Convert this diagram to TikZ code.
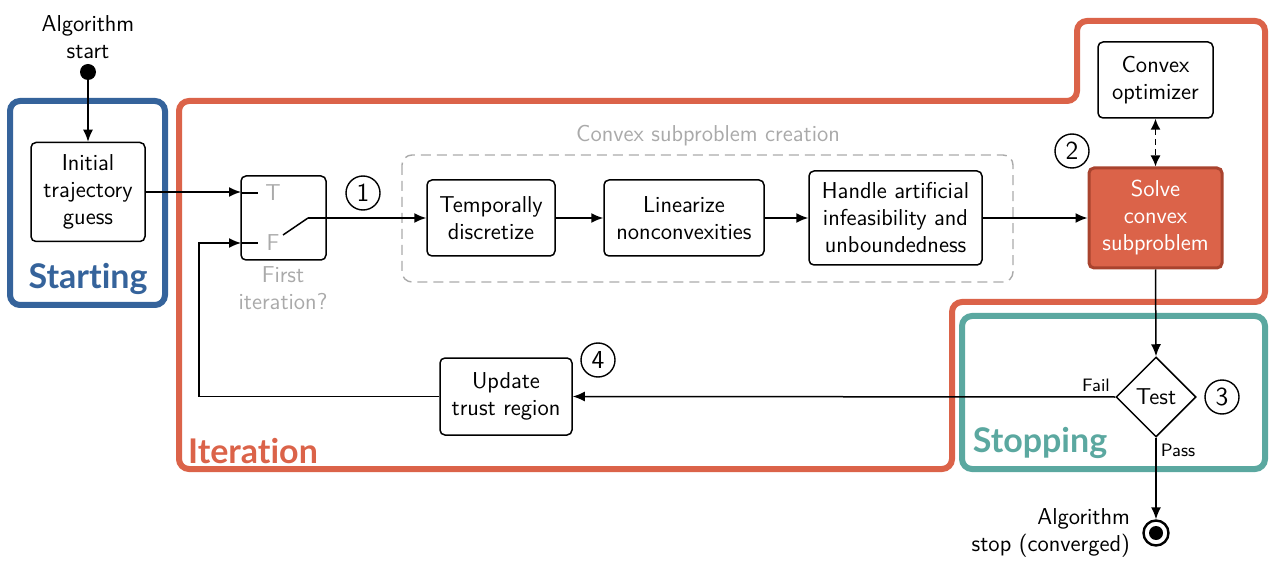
\documentclass[tikz,border=0pt]{standalone}
\usepackage{fontspec}
\newfontfamily\labelfont[Ligatures=NoCommon]{Lato}
\usetikzlibrary{shapes.geometric,arrows.meta}
\definecolor{cblue}{HTML}{35639B}
\definecolor{corange}{HTML}{DB6349}
\definecolor{cdark}{HTML}{A9432E}
\definecolor{cteal}{HTML}{5BA8A0}
\definecolor{cgray}{HTML}{AAAAAA}
\tikzset{
  box/.style={draw, rounded corners=2.5pt, line width=0.75pt, align=center, inner sep=0pt},
  arr/.style={-{Latex[length=6pt,width=5pt]}, line width=0.75pt},
  region/.style={line width=3pt, rounded corners=5pt},
  regionlabel/.style={font=\labelfont\bfseries\fontsize{17}{20}\selectfont},
  numcircle/.style={draw, circle, line width=0.7pt, inner sep=0pt, minimum size=17pt, font=\sffamily\fontsize{13}{13}\selectfont},
  small/.style={font=\sffamily\fontsize{9}{11}\selectfont},
}
\begin{document}
\begin{tikzpicture}[x=0.5pt,y=-0.5pt, font=\sffamily\fontsize{11.5}{13.5}\selectfont]
\useasboundingbox (0,0) rectangle (1269,561);
% regions
\draw[region, cblue] (10,101) rectangle (165,305);
\draw[region, corange] (179,101) -- (1077,101) -- (1077,21) -- (1265,21) -- (1265,302) -- (952,302) -- (952,469) -- (179,469) -- cycle;
\draw[region, cteal] (962,316) rectangle (1265,469);
\node[regionlabel, text=cblue] (lstart) at (88,279) {Starting};
\node[regionlabel, text=corange] (liter) at (253,451) {Iteration};
\node[regionlabel, text=cteal] (lstop) at (1040,443) {Stopping};
% convex subproblem creation
\draw[cgray, dashed, dash pattern=on 5pt off 3pt, line width=0.7pt, rounded corners=5pt] (402,155) rectangle (1013,282);
\node[text=cgray] (csc) at (708,136) {Convex subproblem creation};
% start
\node[align=center] (startlbl) at (88,37) {Algorithm\\start};
\node[circle, fill=black, inner sep=0pt, minimum size=8pt] (startdot) at (88,72) {};
\node[box, minimum width=57pt, minimum height=49.5pt] (init) at (88,192) {Initial\\trajectory\\guess};
\draw[arr] (startdot) -- (init.north);
% switch
\node[box, minimum width=42.5pt, minimum height=42pt] (sw) at (283.5,218) {};
\coordinate (swT) at (241,193);
\coordinate (swF) at (241,243);
\coordinate (swTe) at (258,193);
\coordinate (swFe) at (258,243);
\node[text=cgray] (tl) at (273,193) {T};
\node[text=cgray] (fl) at (273,243) {F};
\draw[line width=0.75pt] (swT) -- (swTe);
\draw[line width=0.75pt] (swF) -- (swFe);
\coordinate (lev1) at (283,235);
\coordinate (lev2) at (308,218);
\node[text=cgray, align=center] (firstit) at (283,288) {First\\iteration?};
\node[numcircle] (n1) at (363,193) {1};
% creation boxes
\node[box, minimum width=64pt, minimum height=38pt] (temp) at (491,218) {Temporally\\discretize};
\node[box, minimum width=80pt, minimum height=38pt] (lin) at (684,218) {Linearize\\nonconvexities};
\node[box, minimum width=86.5pt, minimum height=47pt] (hand) at (895.5,218) {Handle artificial\\infeasibility and\\unboundedness};
% solve
\node[box, minimum width=57.5pt, minimum height=38pt] (opt) at (1155.5,80) {Convex\\optimizer};
\node[box, draw=cdark, fill=corange, text=white, line width=1.5pt, minimum width=66.5pt, minimum height=50pt] (solve) at (1155.5,218) {Solve\\convex\\subproblem};
\node[numcircle] (n2) at (1072,151) {2};
% test
\node[draw, diamond, aspect=1, inner sep=0pt, minimum width=40pt, minimum height=40pt, line width=0.75pt] (test) at (1156,397) {Test};
\node[numcircle] (n3) at (1222,397) {3};
\node[small] (fail) at (1096,385) {Fail};
\node[small] (pass) at (1178,450) {Pass};
% update
\node[box, minimum width=66pt, minimum height=38.5pt] (upd) at (506,396.5) {Update\\trust region};
\node[numcircle] (n4) at (598,360) {4};
% stop
\node[circle, draw, line width=1.2pt, inner sep=0pt, minimum size=12.5pt] (stop) at (1156,533) {};
\node[circle, fill=black, inner sep=0pt, minimum size=7pt] (stopin) at (stop.center) {};
\node[align=right, anchor=east] (stoplbl) at (1137,533) {Algorithm\\stop (converged)};
% connectors
\draw[arr] (init.east) -- (init.east -| swT);
\draw[line width=0.75pt] (lev1) -- (lev2);
\draw[arr] (lev2) -- (temp.west);
\draw[arr] (temp.east) -- (lin.west);
\draw[arr] (lin.east) -- (hand.west);
\draw[arr] (hand.east) -- (solve.west);
\draw[{Latex[length=5.5pt,width=5pt]}-{Latex[length=5.5pt,width=5pt]}, line width=0.75pt, dash pattern=on 3pt off 2pt] (opt.south) -- (solve.north);
\draw[arr] (solve.south) -- (test.north);
\draw[arr] (test.west) -- (upd.east);
\coordinate (fb) at (199,396.5);
\draw[arr] (upd.west) -- (fb) |- (swF);
\draw[arr] (test.south) -- (stop.north);
\end{tikzpicture}
\end{document}
